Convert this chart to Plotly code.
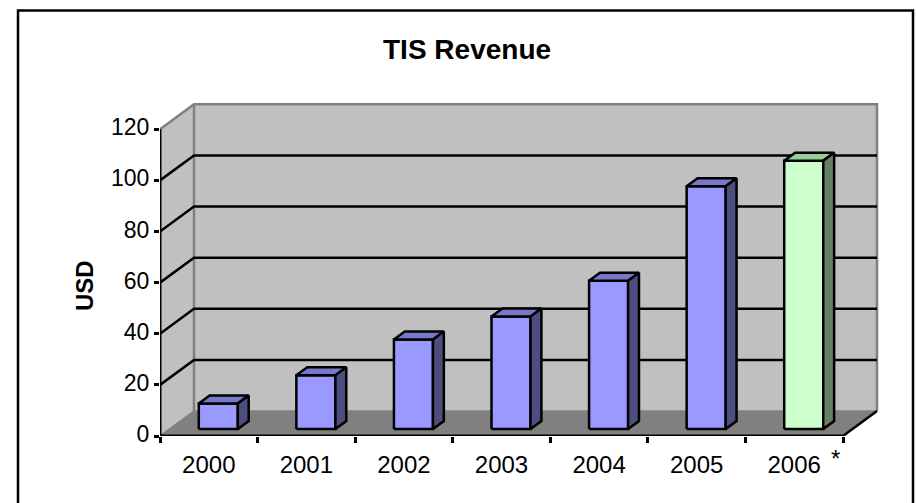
import plotly.graph_objects as go

# ---- data -------------------------------------------------------------
years = ["2000", "2001", "2002", "2003", "2004", "2005", "2006"]
revenue = [10, 21, 35, 44, 58, 95, 105]
y_ticks = [0, 20, 40, 60, 80, 100, 120]
grid_values = [20, 40, 60, 80, 100]

front_colors = ["#9999FF"] * 6 + ["#CCFFCC"]
top_colors = ["#7777CC"] * 6 + ["#99CC99"]
side_colors = ["#4D4D80"] * 6 + ["#668066"]

# ---- geometry of the oblique 3-D frame ---------------------------------
W, H = 916, 503
PLOT_L, PLOT_R, PLOT_T, PLOT_B = 160, 882, 98, 436   # plot box in px
CAT_PX = (843 - 160) / len(years)                     # px per category
UNIT_PX = (436 - 129.3) / y_ticks[-1]                 # px per USD unit

n = len(years)
DX = 34 / CAT_PX          # depth shift along x (data units)
DY = 25 / UNIT_PX         # depth shift along y (data units)
Y_TOP = y_ticks[-1]

BAR_W = 0.40              # bar width as a fraction of a category
F0, F1 = 0.28, 0.60       # bar depth span as fractions of full depth

WALL = "#C0C0C0"
FLOOR = "#808080"
EDGE = "#808080"

traces = []


def poly(xs, ys, fill, line_color=None, width=0):
    return go.Scatter(
        x=list(xs) + [xs[0]], y=list(ys) + [ys[0]],
        mode="lines", fill="toself", fillcolor=fill,
        line=dict(color=line_color or fill, width=width),
        hoverinfo="skip", showlegend=False,
    )


def line(xs, ys, color, width=2):
    return go.Scatter(
        x=xs, y=ys, mode="lines",
        line=dict(color=color, width=width),
        hoverinfo="skip", showlegend=False,
    )


# walls and floor
traces.append(poly([0, DX, DX, 0], [0, DY, Y_TOP + DY, Y_TOP], WALL))
traces.append(poly([DX, n + DX, n + DX, DX], [DY, DY, Y_TOP + DY, Y_TOP + DY], WALL))
traces.append(poly([0, n, n + DX, DX], [0, 0, DY, DY], FLOOR))

# wall edges
traces.append(line([0, DX, n + DX, n + DX], [Y_TOP, Y_TOP + DY, Y_TOP + DY, DY], EDGE, 2.5))
traces.append(line([DX, DX], [DY, Y_TOP + DY], EDGE, 2.5))
traces.append(line([0, DX, n + DX], [0, DY, DY], EDGE, 1.5))
traces.append(line([n, n + DX], [0, DY], "black", 2.5))

# gridlines across side wall and back wall
for v in grid_values:
    traces.append(line([0, DX, n + DX], [v, v + DY, v + DY], "black", 2.5))

# front axis lines
traces.append(line([0, 0], [0, Y_TOP], "black", 3))
traces.append(line([0, n], [0, 0], "black", 3))

# bars: front, top and right-hand faces
ddx = (F1 - F0) * DX
ddy = (F1 - F0) * DY
for i, v in enumerate(revenue):
    x0 = i + 0.5 - BAR_W / 2 + F0 * DX
    y0 = F0 * DY
    x1 = x0 + BAR_W
    traces.append(poly([x0, x1, x1, x0], [y0, y0, y0 + v, y0 + v],
                       front_colors[i], "black", 2.5))
    traces.append(poly([x0, x1, x1 + ddx, x0 + ddx],
                       [y0 + v, y0 + v, y0 + v + ddy, y0 + v + ddy],
                       top_colors[i], "black", 2.5))
    traces.append(poly([x1, x1 + ddx, x1 + ddx, x1],
                       [y0, y0 + ddy, y0 + v + ddy, y0 + v],
                       side_colors[i], "black", 2.5))

fig = go.Figure(traces)

FONT = "Liberation Sans, Arial, sans-serif"

fig.update_layout(
    width=W, height=H,
    margin=dict(l=0, r=0, t=0, b=0),
    paper_bgcolor="white", plot_bgcolor="rgba(0,0,0,0)",
    showlegend=False,
    font=dict(family=FONT, color="black"),
    xaxis=dict(
        domain=[PLOT_L / W, PLOT_R / W],
        range=[0, (PLOT_R - PLOT_L) / CAT_PX],
        tickvals=[i + 0.5 for i in range(n)], ticktext=years,
        ticks="outside", ticklen=7, tickcolor="rgba(0,0,0,0)",
        tickfont=dict(size=24, family=FONT, color="black"),
        minor=dict(tickvals=list(range(n + 1)), ticks="outside",
                   ticklen=6, tickwidth=2.5, tickcolor="black", showgrid=False),
        showgrid=False, zeroline=False, showline=False,
        automargin=False, fixedrange=True,
    ),
    yaxis=dict(
        domain=[1 - PLOT_B / H, 1 - PLOT_T / H],
        range=[0, (PLOT_B - PLOT_T) / UNIT_PX],
        tickvals=y_ticks, ticktext=[str(t) for t in y_ticks],
        ticks="outside", ticklen=5, tickwidth=2.5, tickcolor="black",
        tickfont=dict(size=23, family=FONT, color="black"),
        ticklabelshift=-2,
        showgrid=False, zeroline=False, showline=False,
        automargin=False, fixedrange=True,
    ),
    annotations=[
        dict(text="<b>TIS Revenue</b>", x=467 / W, y=1 - 49 / H,
             xref="paper", yref="paper", showarrow=False,
             xanchor="center", yanchor="middle",
             font=dict(size=28, family=FONT, color="black")),
        dict(text="<b>USD</b>", x=84 / W, y=1 - 286 / H, textangle=-90,
             xref="paper", yref="paper", showarrow=False,
             xanchor="center", yanchor="middle",
             font=dict(size=24, family=FONT, color="black")),
        dict(text="*", x=835 / W, y=1 - 443 / H,
             xref="paper", yref="paper", showarrow=False,
             xanchor="center", yanchor="top",
             font=dict(size=24, family=FONT, color="black")),
    ],
    shapes=[
        dict(type="rect", xref="paper", yref="paper",
             x0=18 / W, x1=913 / W, y0=1 - 505 / H, y1=1 - 10.5 / H,
             line=dict(color="black", width=2.5), fillcolor="rgba(0,0,0,0)",
             layer="above"),
    ],
)

fig.write_html("out.html")
